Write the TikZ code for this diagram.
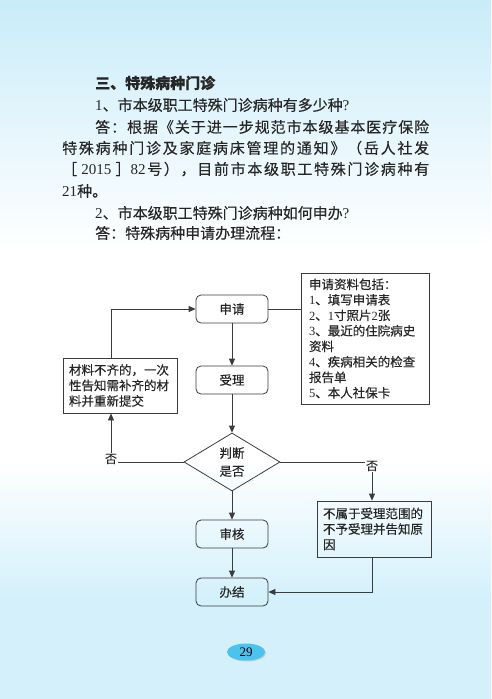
\documentclass[tikz,border=0pt]{standalone}
\usepackage{fontspec}
\setmainfont{Noto Sans CJK SC}[FakeBold=0.3]
\newfontfamily\tm{Liberation Serif}
\usetikzlibrary{shapes.geometric,arrows.meta,shadows}
\definecolor{bgtop}{HTML}{C9ECF9}
\definecolor{bgbot}{HTML}{D3F0FB}
\definecolor{pgnum}{HTML}{4CC3EF}
\definecolor{ln}{HTML}{3C3C3C}
\definecolor{txt}{HTML}{262626}
\makeatletter
\newcommand\sprd[2]{\makebox[#1][s]{\sprd@#2\@nil}}
\def\sprd@#1#2\@nil{#1\if\relax\detokenize{#2}\relax\else\hfil\sprd@#2\@nil\fi}
\makeatother
\begin{document}
\begin{tikzpicture}[x=1pt,y=-1pt,
  body/.style={anchor=base west, inner sep=0pt, text=txt, font=\fontsize{15}{18}\selectfont},
  rbx/.style={draw=ln, line width=0.8pt, rounded corners=5pt, minimum width=72pt, minimum height=28pt, inner sep=0pt, text=txt, font=\fontsize{12.5}{15}\selectfont},
  sbx/.style={draw=ln, line width=0.8pt, align=left, inner ysep=2pt, text=txt, font=\fontsize{12.5}{15.5}\selectfont},
  dia/.style={draw=ln, line width=0.8pt, diamond, minimum width=96pt, minimum height=58pt, inner sep=0pt, align=center, text=txt, font=\fontsize{12.5}{18}\selectfont},
  lab/.style={inner sep=1pt, text=txt, font=\fontsize{12}{12}\selectfont},
  cn/.style={draw=ln, line width=0.8pt},
  arr/.style={draw=ln, line width=0.8pt, -{Triangle[length=7pt,width=6pt]}}
]
\useasboundingbox (0,0) rectangle (491,699);
% background
\shade[top color=bgtop, bottom color=white] (0,0) rectangle (491,250);
\fill[white] (0,249) rectangle (491,461);
\shade[top color=white, bottom color=bgbot] (0,460) rectangle (491,601);
\fill[bgbot] (0,600) rectangle (491,699);

% body text
\node[body] (t1) at (95,88.7) {\bfseries 三、特殊病种门诊};
\node[body] (t2) at (95,110.7) {{\tm 1}、市本级职工特殊门诊病种有多少种{\tm ?}};
\node[body] (t3) at (95,132.7) {\sprd{334pt}{答：根据《关于进一步规范市本级基本医疗保险}};
\node[body] (t4) at (62,153.7) {\sprd{367pt}{特殊病种门诊及家庭病床管理的通知》（岳人社发}};
\node[body] (t5) at (62,174.7) {\sprd{367pt}{［{{\tm\,2015\,}}{］{\tm 82}}号），目前市本级职工特殊门诊病种有}};
\node[body] (t6) at (62,196.7) {{\tm 21}种。};
\node[body] (t7) at (95,218.7) {{\tm 2}、市本级职工特殊门诊病种如何申办{\tm ?}};
\node[body] (t8) at (95,238.7) {答：特殊病种申请办理流程：};

% flowchart
\node[rbx] (sq) at (232,309) {申请};
\node[rbx] (sl) at (232,380) {受理};
\node[dia] (pd) at (232,462) {判断\\是否};
\node[rbx] (sh) at (232,534) {审核};
\node[rbx] (bj) at (232,592) {办结};
\node[sbx, minimum width=114pt, minimum height=55pt, text width=102pt, inner xsep=6pt] (lb) at (120,385.5)
  {材料不齐的，一次\\性告知需补齐的材\\料并重新提交};
\node[sbx, minimum width=128pt, minimum height=131pt, text width=112pt, inner xsep=8pt] (rb) at (365,338.5)
  {申请资料包括：\\{\tm 1}、填写申请表\\{\tm 2}、{\tm 1}寸照片{\tm 2}张\\{\tm 3}、最近的住院病史\\资料\\{\tm 4}、疾病相关的检查\\报告单\\{\tm 5}、本人社保卡};
\node[sbx, minimum width=114pt, minimum height=56pt, text width=102pt, inner xsep=6pt] (rb2) at (374,529)
  {不属于受理范围的\\不予受理并告知原\\因};
\node[lab] (n1) at (111,459) {否};
\node[lab] (n2) at (372,466) {否};

\draw[cn] (sq.east) -- (sq.east -| rb.west);
\draw[arr] (sq) -- (sl);
\draw[arr] (sl) -- (pd);
\draw[arr] (pd) -- (sh);
\draw[arr] (sh) -- (bj);
\draw[cn] (pd.west) -- (pd.west -| n1.east);
\draw[arr] (n1.north) -- (n1.north |- lb.south);
\draw[arr] (n1 |- lb.north) |- (sq.west);
\draw[cn] (pd.east) -- (pd.east -| n2.west);
\draw[arr] (n2.south) -- (n2.south |- rb2.north);
\draw[arr] (n2 |- rb2.south) |- (bj.east);

% page number
\node[ellipse, fill=pgnum, minimum width=38pt, minimum height=17pt, inner sep=0pt,
  drop shadow={shadow xshift=1pt, shadow yshift=-1pt, opacity=0.3}] (pg) at (246,652)
  {\tm\fontsize{13}{13}\selectfont 29};
\end{tikzpicture}
\end{document}
